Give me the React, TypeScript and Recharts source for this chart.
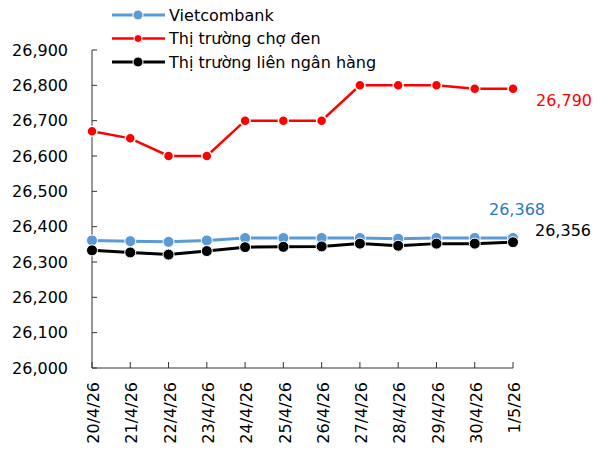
import React from 'react';
import { LineChart, Line, XAxis, YAxis, Legend, LabelList } from 'recharts';

const dates = ['20/4/26', '21/4/26', '22/4/26', '23/4/26', '24/4/26', '25/4/26', '26/4/26', '27/4/26', '28/4/26', '29/4/26', '30/4/26', '1/5/26'];
const vietcombank = [26361, 26359, 26357, 26361, 26368, 26368, 26368, 26368, 26366, 26368, 26368, 26368];
const blackMarket = [26670, 26650, 26600, 26600, 26700, 26700, 26700, 26800, 26800, 26800, 26790, 26790];
const interbank = [26333, 26327, 26321, 26331, 26342, 26343, 26344, 26352, 26346, 26352, 26352, 26356];
const yTicks = [26000, 26100, 26200, 26300, 26400, 26500, 26600, 26700, 26800, 26900];

const seriesNames = ['Vietcombank', 'Thị trường chợ đen', 'Thị trường liên ngân hàng'];
const seriesColors = ['#5B9BD5', '#FF0000', '#000000'];
const labelColors = ['#1F7BC8', '#FF0000', '#000000'];
const markerR = [5.5, 5, 5.5];
const legendR = [5, 4, 5];

const data = dates.map((d, i) => ({
  date: d,
  vcb: vietcombank[i],
  cho: blackMarket[i],
  lnh: interbank[i],
}));

const FONT = 'DejaVu Sans, Verdana, sans-serif';
const fmt = (v: number) => v.toLocaleString('en-US');

const YTick = (props: any) => {
  const { x, y, payload } = props;
  return (
    <g>
      <line x1={x} x2={x + 5} y1={y} y2={y} stroke="#333" strokeWidth={1} />
      <text x={x - 24} y={y} dy="0.36em" textAnchor="end" fontFamily={FONT} fontSize={16} fill="#000">
        {fmt(payload.value)}
      </text>
    </g>
  );
};

const XTick = (props: any) => {
  const { x, y, payload } = props;
  return (
    <g>
      <line x1={x} x2={x} y1={y - 6} y2={y} stroke="#333" strokeWidth={1} />
      <text
        transform={`translate(${x},${y + 14}) rotate(-90)`}
        dy="0.45em"
        textAnchor="end"
        fontFamily={FONT}
        fontSize={16}
        fill="#000"
      >
        {payload.value}
      </text>
    </g>
  );
};

const renderLegend = () => (
  <svg width={320} height={76} style={{ display: 'block' }}>
    {seriesNames.map((name, i) => {
      const cy = 15 + i * 23.5;
      return (
        <g key={name}>
          <line x1={12} x2={65} y1={cy} y2={cy} stroke={seriesColors[i]} strokeWidth={i === 1 ? 2.5 : 3} />
          <circle cx={38} cy={cy} r={legendR[i]} fill={seriesColors[i]} stroke="#fff" strokeWidth={1} />
          <text x={69} y={cy} dy="0.36em" fontFamily={FONT} fontSize={16} fill="#000">
            {name}
          </text>
        </g>
      );
    })}
  </svg>
);

const makeLastLabel = (seriesIdx: number, dx: number, dy: number, anchor: string) => (props: any) => {
  const { x, y, value, index } = props;
  if (index !== dates.length - 1) return null;
  return (
    <text
      x={x + dx}
      y={y + dy}
      dy="0.36em"
      textAnchor={anchor}
      fontFamily={FONT}
      fontSize={16}
      fill={labelColors[seriesIdx]}
    >
      {fmt(value)}
    </text>
  );
};

export default function App() {
  return (
    <div style={{ position: 'absolute', left: 0, top: 0 }}>
      <LineChart width={603} height={450} data={data} margin={{ top: 50, right: 90, bottom: 0, left: 0 }}>
        <XAxis
          dataKey="date"
          height={82}
          tickSize={0}
          tickMargin={0}
          tickLine={false}
          tick={<XTick />}
          interval={0}
          axisLine={{ stroke: '#333', strokeWidth: 1 }}
        />
        <YAxis
          width={92}
          domain={[26000, 26900]}
          ticks={yTicks}
          tickSize={0}
          tickMargin={0}
          tickLine={false}
          tick={<YTick />}
          interval={0}
          axisLine={{ stroke: '#333', strokeWidth: 1 }}
        />
        <Legend
          layout="horizontal"
          verticalAlign="middle"
          align="center"
          content={renderLegend}
          wrapperStyle={{ top: 0, left: 100, width: 320, height: 76 }}
        />
        <Line
          type="linear"
          dataKey="vcb"
          name={seriesNames[0]}
          stroke={seriesColors[0]}
          strokeWidth={3}
          dot={{ r: markerR[0], fill: seriesColors[0], stroke: '#fff', strokeWidth: 1 }}
          activeDot={false}
          isAnimationActive={false}
        >
          <LabelList dataKey="vcb" content={makeLastLabel(0, 4, -29, 'middle')} />
        </Line>
        <Line
          type="linear"
          dataKey="cho"
          name={seriesNames[1]}
          stroke={seriesColors[1]}
          strokeWidth={2.5}
          dot={{ r: markerR[1], fill: seriesColors[1], stroke: '#fff', strokeWidth: 1.5 }}
          activeDot={false}
          isAnimationActive={false}
        >
          <LabelList dataKey="cho" content={makeLastLabel(1, 23, 11, 'start')} />
        </Line>
        <Line
          type="linear"
          dataKey="lnh"
          name={seriesNames[2]}
          stroke={seriesColors[2]}
          strokeWidth={3}
          dot={{ r: markerR[2], fill: seriesColors[2], stroke: '#fff', strokeWidth: 1 }}
          activeDot={false}
          isAnimationActive={false}
        >
          <LabelList dataKey="lnh" content={makeLastLabel(2, 22, -12, 'start')} />
        </Line>
      </LineChart>
    </div>
  );
}
